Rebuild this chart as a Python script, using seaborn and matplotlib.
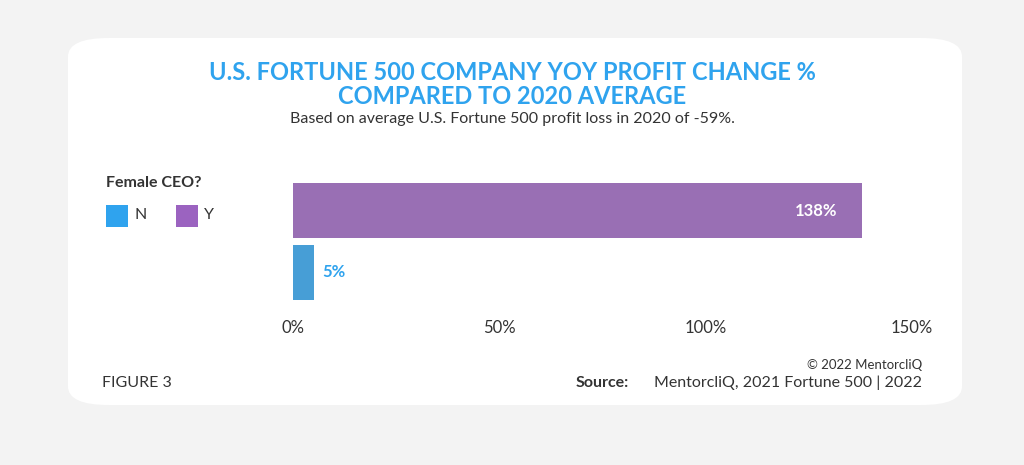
import matplotlib
matplotlib.use("Agg")
import matplotlib.pyplot as plt
from matplotlib.patches import FancyBboxPatch, Rectangle
import seaborn as sns
import pandas as pd

# chart data
groups = ["Y", "N"]
profit_change = [138, 5]
value_labels = ["138%", "5%"]
tick_values = [0, 50, 100, 150]
tick_labels = ["0%", "50%", "100%", "150%"]

blue = "#2fa3ee"
purple = "#9b63c0"
plt.rcParams["font.family"] = "Lato"

df = pd.DataFrame({"ceo": groups, "change": profit_change})

fig = plt.figure(figsize=(10.24, 4.65), dpi=100)
fig.patch.set_facecolor("#f3f3f3")

# white rounded card
card = FancyBboxPatch((68 / 1024, 1 - 405 / 465), (962 - 68) / 1024, (405 - 38) / 465,
                      boxstyle="round,pad=0,rounding_size=0.04", transform=fig.transFigure,
                      facecolor="white", edgecolor="none", zorder=-5)
fig.patches.append(card)

ax = fig.add_axes([293 / 1024, 1 - 303 / 465, (912 - 293) / 1024, 123 / 465])
ax.set_zorder(5)
sns.barplot(data=df, x="change", y="ceo", hue="ceo", palette={"Y": purple, "N": blue},
            order=groups, width=0.9, legend=False, ax=ax)
ax.set_xlim(0, 150)
ax.set_ylim(1.5, -0.5)
ax.set_facecolor("none")
for s in ax.spines.values():
    s.set_visible(False)
ax.set_yticks([])
ax.set_ylabel("")
ax.set_xlabel("")
ax.set_xticks(tick_values)
ax.set_xticklabels(tick_labels, fontsize=12, color="#333333")
ax.tick_params(axis="x", length=0, pad=12)

ax.text(profit_change[0] - 6, 0, value_labels[0], ha="right", va="center",
        color="white", fontsize=12, fontweight="bold")
ax.text(profit_change[1] + 2, 1, value_labels[1], ha="left", va="center",
        color=blue, fontsize=12, fontweight="bold")

fig.text(0.5, 1 - 72 / 465, "U.S. FORTUNE 500 COMPANY YOY PROFIT CHANGE %",
         ha="center", va="center", color=blue, fontsize=17, fontweight="bold")
fig.text(0.5, 1 - 97 / 465, "COMPARED TO 2020 AVERAGE",
         ha="center", va="center", color=blue, fontsize=17, fontweight="bold")
fig.text(0.5, 1 - 119 / 465, "Based on average U.S. Fortune 500 profit loss in 2020 of -59%.",
         ha="center", va="center", color="#333333", fontsize=11.5)

# legend
fig.text(106 / 1024, 1 - 183 / 465, "Female CEO?", ha="left", va="center",
         fontsize=11.5, fontweight="bold", color="#333333")
for x0, col, lab in [(106, blue, "N"), (176, purple, "Y")]:
    fig.patches.append(Rectangle((x0 / 1024, 1 - 227 / 465), 22 / 1024, 22 / 465,
                                 transform=fig.transFigure, facecolor=col, edgecolor="none"))
    fig.text((x0 + 28) / 1024, 1 - 215 / 465, lab, ha="left", va="center",
             fontsize=11.5, color="#333333")

fig.text(102 / 1024, 1 - 383 / 465, "FIGURE 3", ha="left", va="center",
         fontsize=11.5, color="#333333")
fig.text(922 / 1024, 1 - 365 / 465, "© 2022 MentorcliQ", ha="right", va="center",
         fontsize=9.5, color="#333333")
fig.text(922 / 1024, 1 - 383 / 465, "MentorcliQ, 2021 Fortune 500 | 2022", ha="right",
         va="center", fontsize=11.5, color="#333333")
fig.text(629 / 1024, 1 - 383 / 465, "Source:", ha="right", va="center",
         fontsize=11.5, fontweight="bold", color="#333333")

fig.savefig("out.png", dpi=100)
